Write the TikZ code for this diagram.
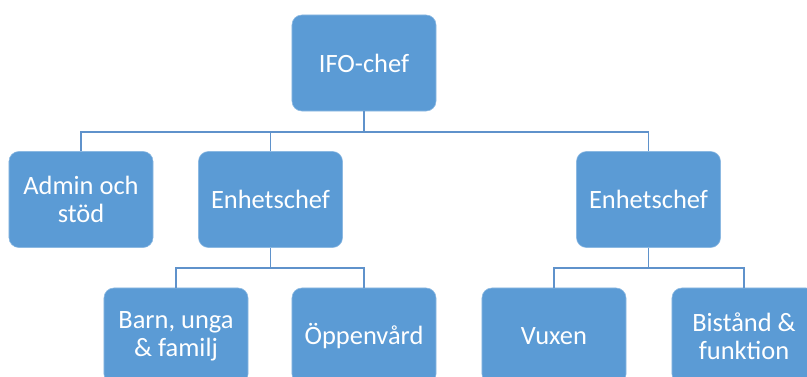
\documentclass[tikz,border=0pt]{standalone}
\usepackage{fontspec}
\setmainfont{Carlito}
\usepackage{xcolor}
\usepackage{tikz}
\definecolor{boxblue}{HTML}{5B9BD5}
\definecolor{linkblue}{HTML}{5F92CB}

\begin{document}
\begin{tikzpicture}[x=0.025cm, y=-0.025cm,
  every node/.style={rectangle, rounded corners=7pt, fill=boxblue, draw=boxblue!70!white, line width=0.4pt,
    minimum width=3.6cm, minimum height=2.4cm, align=center, text=white,
    font=\fontsize{18.8}{20}\selectfont},
  link/.style={draw=linkblue, line width=1.2pt}]
\useasboundingbox (0,0) rectangle (807,376);
\clip (0,0) rectangle (807,376);
% Points
% Points
\node (ifo) at (364,63) {IFO-chef};
\node (admin) at (81,199.5) {Admin och\\stöd};
\node (ench1) at (270.5,199.5) {Enhetschef};
\node (ench2) at (648.5,199.5) {Enhetschef};
\node (barn) at (176,336) {Barn, unga\\\& familj};
\node (oppen) at (364,336) {Öppenvård};
\node (vuxen) at (554,336) {Vuxen};
\node (bistand) at (744,336) {Bistånd \&\\funktion};
\coordinate (bus1) at (0,132);
\coordinate (bus2) at (0,268);

%Lines
\draw[link] (admin.north) |- (ifo.south |- bus1) -- (ifo.south);
\draw[link] (ench1.north) |- (ifo.south |- bus1);
\draw[link] (ench2.north) |- (ifo.south |- bus1);
\draw[link] (barn.north) |- (ench1.south |- bus2) -- (ench1.south);
\draw[link] (oppen.north) |- (ench1.south |- bus2);
\draw[link] (vuxen.north) |- (ench2.south |- bus2) -- (ench2.south);
\draw[link] (bistand.north) |- (ench2.south |- bus2);
\end{tikzpicture}
\end{document}
